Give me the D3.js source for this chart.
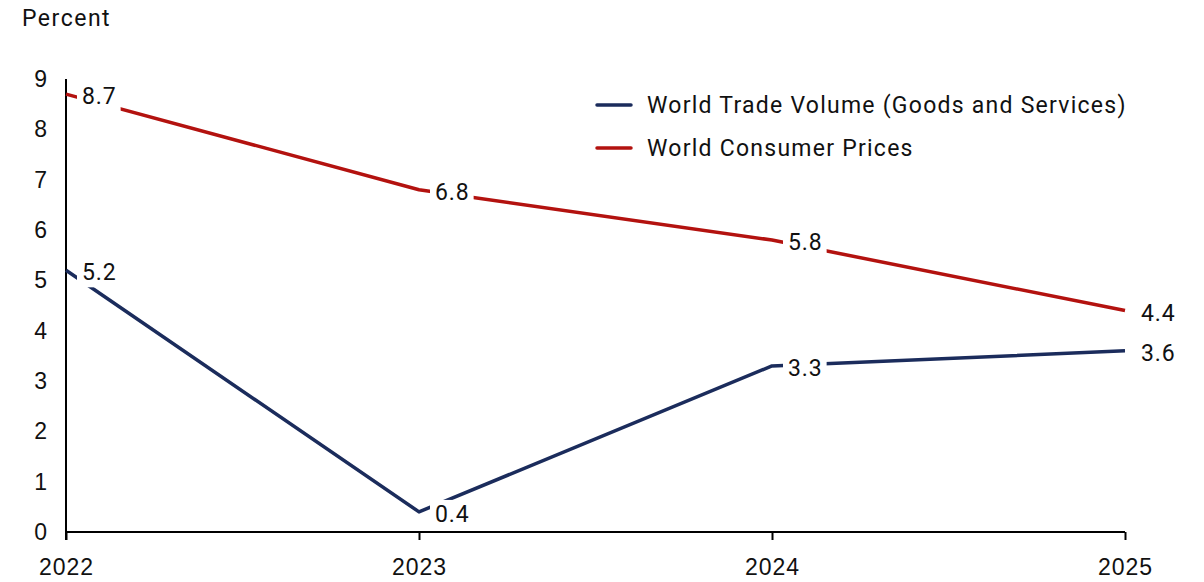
<!DOCTYPE html>
<html>
<head>
<meta charset="utf-8">
<script src="https://cdn.jsdelivr.net/npm/d3@7"></script>
<style>
  html, body { margin: 0; padding: 0; background: #fff; }
  svg { display: block; font-family: Roboto, "Noto Sans", sans-serif; }
</style>
</head>
<body>
<svg id="chart" width="1204" height="582"></svg>
<script>
// Annual percent change, world aggregates
const years = [2022, 2023, 2024, 2025];
const tradeVolume = [5.2, 0.4, 3.3, 3.6];
const consumerPrices = [8.7, 6.8, 5.8, 4.4];
const yTicks = [0, 1, 2, 3, 4, 5, 6, 7, 8, 9];
const seriesNames = ["World Trade Volume (Goods and Services)", "World Consumer Prices"];
const seriesColors = ["#1b2c5c", "#b3120f"];

const svg = d3.select("#chart");
const fontSize = 23;
const wordSpacing = "1.25px";
const digitSpacing = "0.9px";

const x = d3.scaleLinear().domain([2022, 2025]).range([66, 1125]);
const y = d3.scaleLinear().domain([0, 9]).range([532, 79]);

// y-axis: line only, labels to the left
const yAxis = svg.append("g").attr("transform", `translate(${x(2022)},0)`)
  .call(d3.axisLeft(y).tickValues(yTicks).tickSize(0).tickPadding(19).tickFormat(d3.format("d")));
yAxis.select(".domain").remove();
yAxis.selectAll("text").attr("font-size", fontSize).attr("fill", "#111").attr("font-family", null);
svg.append("line")
  .attr("x1", x(2022)).attr("x2", x(2022))
  .attr("y1", y(9)).attr("y2", y(0) + 8)
  .attr("stroke", "#000").attr("stroke-width", 2);

// x-axis with downward ticks
const xAxis = svg.append("g").attr("transform", `translate(0,${y(0)})`)
  .call(d3.axisBottom(x).tickValues(years).tickSize(8).tickPadding(19).tickFormat(d3.format("d")));
xAxis.select(".domain").attr("stroke", "#000").attr("stroke-width", 2)
  .attr("d", `M${x(2022)},0H${x(2025)}`);
xAxis.selectAll(".tick line").attr("stroke", "#000").attr("stroke-width", 2);
xAxis.selectAll("text").attr("font-size", fontSize).attr("fill", "#111").attr("font-family", null)
  .attr("letter-spacing", digitSpacing);

// axis title
svg.append("text").attr("x", 22).attr("y", 26)
  .attr("font-size", fontSize).attr("fill", "#111")
  .attr("letter-spacing", "1.5px").text("Percent");

const line = d3.line().x((d, i) => x(years[i])).y(d => y(d));
const series = [tradeVolume, consumerPrices];

series.forEach((vals, s) => {
  svg.append("path").datum(vals)
    .attr("d", line)
    .attr("fill", "none")
    .attr("stroke", seriesColors[s])
    .attr("stroke-width", 3.5)
    .attr("stroke-linejoin", "round");
});

// value labels with white backing
series.forEach((vals, s) => {
  vals.forEach((v, i) => {
    const g = svg.append("g");
    const t = g.append("text")
      .attr("x", x(years[i]) + 16)
      .attr("y", y(v) + 2)
      .attr("dy", "0.35em")
      .attr("font-size", fontSize)
      .attr("fill", "#111")
      .attr("letter-spacing", digitSpacing)
      .text(d3.format(".1f")(v));
    if (i < years.length - 1) {
      const bb = t.node().getBBox();
      g.insert("rect", "text")
        .attr("x", bb.x - 5).attr("y", bb.y - 1)
        .attr("width", bb.width + 9).attr("height", bb.height + 2)
        .attr("fill", "#fff");
    }
  });
});

// legend
const legend = svg.append("g");
seriesNames.forEach((name, s) => {
  const ly = 105 + s * 43;
  legend.append("line")
    .attr("x1", 597).attr("x2", 631).attr("y1", ly).attr("y2", ly)
    .attr("stroke", seriesColors[s]).attr("stroke-width", 3.5)
    .attr("stroke-linecap", "round");
  legend.append("text")
    .attr("x", 647).attr("y", ly).attr("dy", "0.35em")
    .attr("font-size", fontSize).attr("fill", "#111")
    .attr("letter-spacing", wordSpacing)
    .text(name);
});
</script>
</body>
</html>
